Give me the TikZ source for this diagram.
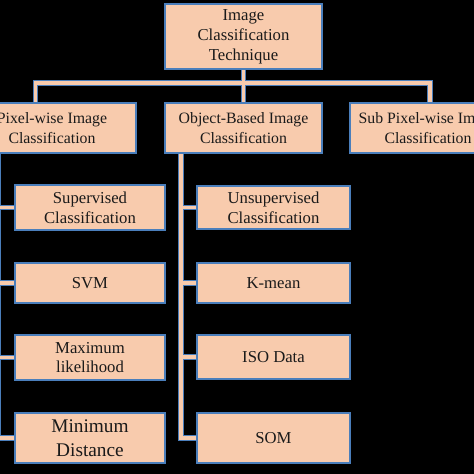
\documentclass[tikz,border=0pt]{standalone}
\usepackage{fontspec}
\setmainfont{Liberation Serif}
\usetikzlibrary{calc,backgrounds}
\definecolor{ink}{HTML}{1A1A1A}
\definecolor{boxfill}{HTML}{F8CBAD}
\definecolor{boxline}{HTML}{4A7EBB}
\newcommand{\ninehalf}{\fontsize{9.5}{11.3}\selectfont}
\newcommand{\ninept}{\fontsize{9}{11.3}\selectfont}
\newcommand{\elevenpt}{\fontsize{11}{13.6}\selectfont}
\tikzset{
 every node/.append style={font=\ninehalf,text=ink,align=center},
 box/.style={draw=boxline,fill=boxfill,line width=.8pt,inner sep=2pt},
 head/.style={box,minimum width=3.14cm,minimum height=1.3cm},
 group/.style={box,font=\ninept,minimum width=3.14cm,minimum height=1cm},
 leaf/.style={box,minimum width=3cm},
 mleaf/.style={box,minimum width=3.06cm},
 barline/.style={draw=boxline,line width=3.4pt},
 barfill/.style={draw=boxfill,line width=2pt},
}

\begin{document}
\begin{tikzpicture}[x=.02cm,y=-.02cm]

\useasboundingbox (0,0) rectangle (474,474);
\clip (0,0) rectangle (474,474);
\node[head] (root) at (243.5,36.5) {Image\\Classification\\Technique};
\node[group,minimum width=3.36cm] (pixel) at (52,128) {Pixel-wise Image\\Classification};
\node[group] (object) at (243.5,128) {Object-Based Image\\Classification};
\node[group,minimum width=3.12cm] (subpixel) at (428,128) {Sub Pixel-wise Image\\Classification};
% pixel-wise column
\node[leaf,minimum height=.9cm] (sup) at (90,207.5) {Supervised\\Classification};
\node[leaf,minimum height=.8cm] (svm) at (90,283) {SVM};
\node[leaf,minimum height=.9cm] (maxlik) at (90,357.5) {Maximum\\likelihood};
\node[leaf,minimum height=1cm,font=\elevenpt] (mindist) at (90,438) {Minimum\\Distance};
% object-based column
\node[mleaf,minimum height=.86cm] (unsup) at (273.5,207.5) {Unsupervised\\Classification};
\node[mleaf,minimum height=.8cm] (kmean) at (273.5,283) {K-mean};
\node[mleaf,minimum height=.88cm] (isodata) at (273.5,357) {ISO Data};
\node[mleaf,minimum height=1cm] (som) at (273.5,438) {SOM};
\coordinate (hub) at (243.5,83);
\coordinate (hubl) at (35.5,83);
\coordinate (hubr) at (430,83);
\coordinate (lx) at (-2,0);
\coordinate (mx) at (181,0);
\begin{scope}[on background layer]
\clip (0,0) rectangle (474,474);
\fill[black] (0,0) rectangle (474,474);
\foreach \s in {barline,barfill}{
 \draw[\s] (hubl |- pixel.north) -- (hubl) -- (hubr) -- (hubr |- subpixel.north);
 \draw[\s] (root) -- (hub) -- (object);
 \draw[\s] (lx |- pixel.south) |- (mindist.west);
 \draw[\s] (lx |- sup.west) -- (sup.west);
 \draw[\s] (lx |- svm.west) -- (svm.west);
 \draw[\s] (lx |- maxlik.west) -- (maxlik.west);
 \draw[\s] (mx |- object.south) |- (som.west);
 \draw[\s] (mx |- unsup.west) -- (unsup.west);
 \draw[\s] (mx |- kmean.west) -- (kmean.west);
 \draw[\s] (mx |- isodata.west) -- (isodata.west);
}
\end{scope}

\end{tikzpicture}
\end{document}
